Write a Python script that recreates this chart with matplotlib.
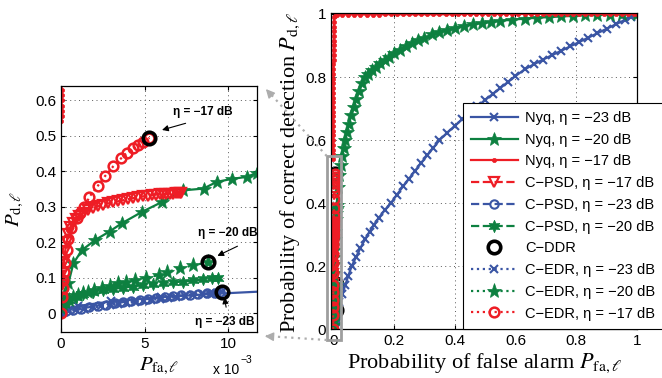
import numpy as np
import matplotlib
matplotlib.use("Agg")
import matplotlib.pyplot as plt
from matplotlib.lines import Line2D
from matplotlib.patches import Rectangle

plt.rcParams['font.family'] = ['Liberation Sans', 'DejaVu Sans']
plt.rcParams['mathtext.fontset'] = 'stix'

BLUE = '#3a55a4'
GREEN = '#0d8040'
RED = '#ee1d25'

# ---- Nyquist ROC curves (full range) ----
nyq23_pfa = [0.0, 0.001, 0.003, 0.006, 0.009, 0.012, 0.02, 0.03, 0.04, 0.05, 0.061, 0.075, 0.09,
             0.105, 0.12, 0.135, 0.15, 0.17, 0.19, 0.21, 0.23, 0.25, 0.27, 0.29, 0.31, 0.33, 0.35,
             0.375, 0.4, 0.425, 0.45, 0.475, 0.5, 0.525, 0.55, 0.575, 0.6, 0.63, 0.66, 0.69, 0.72,
             0.75, 0.78, 0.81, 0.84, 0.87, 0.9, 0.93, 0.96, 0.98, 1.0]
nyq23_pd = [0.0, 0.02, 0.033, 0.045, 0.054, 0.061, 0.085, 0.112, 0.14, 0.17, 0.2, 0.228, 0.258,
            0.285, 0.31, 0.332, 0.353, 0.378, 0.4, 0.427, 0.453, 0.478, 0.503, 0.528, 0.552, 0.576, 0.6,
            0.623, 0.645, 0.666, 0.687, 0.707, 0.727, 0.746, 0.765, 0.784, 0.803, 0.824, 0.84, 0.855, 0.869,
            0.883, 0.897, 0.911, 0.925, 0.939, 0.953, 0.967, 0.981, 0.991, 1.0]

nyq20_pfa = [0.0, 0.00004, 0.0002, 0.00044, 0.00074, 0.00124, 0.00204, 0.0029, 0.00363, 0.00483,
             0.00603, 0.00732, 0.00852, 0.00932, 0.0102, 0.0111, 0.0117,
             0.016, 0.02, 0.025, 0.03, 0.035, 0.04, 0.046, 0.052, 0.06, 0.068,
             0.076, 0.085, 0.095, 0.105, 0.115, 0.127, 0.14, 0.155, 0.17, 0.185,
             0.2, 0.22, 0.24, 0.26, 0.28, 0.3, 0.325, 0.35, 0.375, 0.4,
             0.43, 0.46, 0.49, 0.52, 0.55, 0.59, 0.63, 0.67, 0.71, 0.75,
             0.79, 0.83, 0.87, 0.91, 0.95, 1.0]
nyq20_pd = [0.01, 0.018, 0.05, 0.084, 0.14, 0.177, 0.206, 0.23, 0.253, 0.285,
            0.313, 0.346, 0.351, 0.37, 0.378, 0.384, 0.395,
            0.45, 0.49, 0.52, 0.55, 0.575, 0.6, 0.625, 0.65, 0.68, 0.705,
            0.73, 0.755, 0.78, 0.8, 0.81, 0.822, 0.833, 0.845, 0.855, 0.865,
            0.875, 0.887, 0.898, 0.908, 0.917, 0.925, 0.935, 0.943, 0.95, 0.956,
            0.962, 0.967, 0.971, 0.975, 0.978, 0.982, 0.985, 0.988, 0.99, 0.992,
            0.994, 0.996, 0.997, 0.998, 0.999, 1.0]

nyq17_pfa = [0.0, 0.00004, 0.00004, 0.00004, 0.00004, 0.00004, 0.00004, 0.00004, 0.00004,
             0.0001, 0.0002, 0.0003, 0.0004, 0.0005, 0.0006, 0.0007, 0.0008, 0.0009, 0.001,
             0.0011, 0.0012, 0.0013, 0.0014, 0.0015, 0.0016, 0.0018, 0.002, 0.0022, 0.0025,
             0.0028, 0.003, 0.006, 0.012,
             0.03, 0.05, 0.07, 0.09, 0.11, 0.13, 0.15, 0.17, 0.19, 0.21, 0.23, 0.25, 0.27, 0.29,
             0.31, 0.33, 0.35, 0.37, 0.39, 0.41, 0.43, 0.45, 0.47, 0.49, 0.51, 0.53, 0.55, 0.57,
             0.59, 0.61, 0.63, 0.65, 0.67, 0.69, 0.71, 0.73, 0.75, 0.77, 0.79, 0.81, 0.83, 0.85,
             0.87, 0.89, 0.91, 0.93, 0.95, 0.97, 0.99, 1.0]
nyq17_pd = [0.54, 0.555, 0.57, 0.585, 0.6, 0.615, 0.63, 0.645, 0.66,
            0.675, 0.69, 0.705, 0.72, 0.735, 0.75, 0.765, 0.78, 0.795, 0.81,
            0.825, 0.84, 0.855, 0.87, 0.885, 0.9, 0.915, 0.93, 0.945, 0.96,
            0.975, 0.99, 0.995, 0.997,
            0.998, 0.998, 0.998, 0.998, 0.998, 0.998, 0.998, 0.999, 0.999, 0.999, 0.999, 0.999, 0.999, 0.999,
            0.999, 0.999, 0.999, 0.999, 0.999, 0.999, 1.0, 1.0, 1.0, 1.0, 1.0, 1.0, 1.0, 1.0,
            1.0, 1.0, 1.0, 1.0, 1.0, 1.0, 1.0, 1.0, 1.0, 1.0, 1.0, 1.0, 1.0, 1.0,
            1.0, 1.0, 1.0, 1.0, 1.0, 1.0, 1.0, 1.0]

# ---- compressive detectors (Pfa in units of 1e-3) ----
cpsd17_pfa = np.array([0.0, 0.03, 0.07, 0.12, 0.18, 0.25, 0.33, 0.43, 0.55, 0.7,
                       0.88, 1.08, 1.33, 1.6, 1.9, 2.2, 2.5, 2.8, 3.1, 3.4,
                       3.7, 4.0, 4.3, 4.6, 4.9, 5.2, 5.45, 5.7, 5.9, 6.1,
                       6.3, 6.5, 6.7, 6.85, 7.0, 7.1, 7.2]) * 1e-3
cpsd17_pd = [0.0, 0.04, 0.08, 0.115, 0.145, 0.175, 0.2, 0.222, 0.242, 0.255,
             0.265, 0.275, 0.283, 0.29, 0.296, 0.301, 0.305, 0.309, 0.312, 0.315,
             0.318, 0.321, 0.324, 0.327, 0.329, 0.331, 0.333, 0.334, 0.335, 0.336,
             0.336, 0.337, 0.337, 0.338, 0.338, 0.338, 0.338]

cpsd23_pfa = np.array([0.0, 0.3, 0.7, 1.2, 1.7, 2.2, 2.7, 3.2, 3.7, 4.2, 4.7, 5.2, 5.7, 6.2,
                       6.7, 7.2, 7.7, 8.2, 8.7, 9.2, 9.5]) * 1e-3
cpsd23_pd = [0.0, 0.005, 0.009, 0.013, 0.017, 0.021, 0.024, 0.028, 0.031, 0.034, 0.037, 0.04,
             0.043, 0.046, 0.048, 0.05, 0.052, 0.054, 0.056, 0.058, 0.06]

cpsd20_pfa = np.array([0.0, 0.2, 0.5, 0.9, 1.33, 1.9, 2.5, 3.1, 3.7, 4.3, 4.9, 5.5, 6.1, 6.7,
                       7.3, 7.9, 8.5, 9.0, 9.4]) * 1e-3
cpsd20_pd = [0.01, 0.025, 0.036, 0.046, 0.053, 0.059, 0.064, 0.068, 0.072, 0.075, 0.079, 0.082,
             0.085, 0.087, 0.089, 0.092, 0.095, 0.098, 0.1]

cddr_pfa = np.array([5.29, 8.8, 9.62]) * 1e-3
cddr_pd = [0.494, 0.143, 0.060]

cedr23_pfa = np.array([0.0, 0.2, 0.5, 0.9, 1.4, 1.9, 2.4, 2.9, 3.4, 3.9, 4.4, 4.9, 5.4, 5.9,
                       6.4, 6.9, 7.4, 7.9, 8.4, 8.9, 9.3, 9.62]) * 1e-3
cedr23_pd = [0.0, 0.003, 0.006, 0.009, 0.013, 0.016, 0.019, 0.022, 0.025, 0.028, 0.031, 0.034,
             0.037, 0.04, 0.043, 0.045, 0.048, 0.05, 0.053, 0.055, 0.058, 0.06]

cedr20_pfa = np.array([0.0, 0.1, 0.25, 0.45, 0.7, 1.0, 1.3, 1.63, 2.0, 2.43, 2.9, 3.43, 3.9,
                       4.43, 5.1, 5.83, 6.33, 7.13, 7.92, 8.8]) * 1e-3
cedr20_pd = [0.015, 0.025, 0.032, 0.038, 0.045, 0.051, 0.056, 0.06, 0.065, 0.07, 0.077, 0.084,
             0.088, 0.093, 0.1, 0.107, 0.116, 0.126, 0.135, 0.143]

cedr17_pfa = np.array([0.0, 0.04, 0.09, 0.14, 0.19, 0.24, 0.34, 0.44, 0.6, 0.94, 1.15, 1.4, 1.7,
                       2.19, 2.63, 3.13, 3.59, 3.93, 4.33, 4.63, 4.93, 5.29]) * 1e-3
cedr17_pd = [0.0, 0.046, 0.07, 0.093, 0.117, 0.14, 0.177, 0.21, 0.239, 0.267, 0.283, 0.298, 0.328,
             0.358, 0.386, 0.414, 0.436, 0.452, 0.464, 0.473, 0.483, 0.494]

series = [
    (nyq23_pfa, nyq23_pd, 'Nyq, η = −23 dB',
     dict(color=BLUE, ls='-', lw=1.6, marker='x', ms=6, mew=1.5)),
    (nyq20_pfa, nyq20_pd, 'Nyq, η = −20 dB',
     dict(color=GREEN, ls='-', lw=1.6, marker='*', ms=10, mew=0.5)),
    (nyq17_pfa, nyq17_pd, 'Nyq, η = −17 dB',
     dict(color=RED, ls='-', lw=1.6, marker='o', ms=3, mew=0.5)),
    (cpsd17_pfa, cpsd17_pd, 'C−PSD, η = −17 dB',
     dict(color=RED, ls='--', lw=1.6, marker='v', ms=7, mew=1.6, mfc='none')),
    (cpsd23_pfa, cpsd23_pd, 'C−PSD, η = −23 dB',
     dict(color=BLUE, ls='--', lw=1.6, marker='o', ms=6, mew=1.5, mfc='none')),
    (cpsd20_pfa, cpsd20_pd, 'C−PSD, η = −20 dB',
     dict(color=GREEN, ls='--', lw=1.6, marker=(6, 1, 0), ms=9, mew=0.5)),
    (cddr_pfa, cddr_pd, 'C−DDR',
     dict(color='black', ls='none', marker='o', ms=9, mew=2.6, mfc='none')),
    (cedr23_pfa, cedr23_pd, 'C−EDR, η = −23 dB',
     dict(color=BLUE, ls=':', lw=1.6, marker='x', ms=6, mew=1.5)),
    (cedr20_pfa, cedr20_pd, 'C−EDR, η = −20 dB',
     dict(color=GREEN, ls=':', lw=1.6, marker='*', ms=11, mew=0.5)),
    (cedr17_pfa, cedr17_pd, 'C−EDR, η = −17 dB',
     dict(color=RED, ls=':', lw=1.6, marker='o', ms=7, mew=1.8, mfc='none')),
]

W, H = 662, 378
def fx(px):
    return px / W
def fy(py):
    return 1 - py / H

fig = plt.figure(figsize=(6.62, 3.78), dpi=100)
ax1 = fig.add_axes([fx(61), fy(332.3), (256.7 - 61) / W, (332.3 - 86) / H])
ax2 = fig.add_axes([fx(331), fy(329.3), 306 / W, 316.3 / H])

handles = []
for x, y, lab, st in series:
    ddr = lab == 'C−DDR'
    ax1.plot(x, y, zorder=4 if ddr else 2, **st)
    h, = ax2.plot(x, y, label=lab, zorder=1.5 if ddr else 2, **st)
    handles.append(h)

# left zoom panel
ax1.set_xlim(0, 0.0117)
ax1.set_ylim(-0.054, 0.64)
ax1.set_xticks([0, 0.005, 0.01])
ax1.set_xticklabels(['0', '5', '10'])
ax1.set_yticks([0, 0.1, 0.2, 0.3, 0.4, 0.5, 0.6])
ax1.set_yticklabels(['0', '0.1', '0.2', '0.3', '0.4', '0.5', '0.6'])
ax1.set_xlabel(r'$P_{\mathrm{fa},\ell}$', fontsize=15)
ax1.xaxis.set_label_coords(0.5, -0.14)
ax1.xaxis.label.set_va('center')
ax1.set_ylabel(r'$P_{\mathrm{d},\ell}$', fontsize=15)
ax1.yaxis.set_label_coords(-0.232, 0.5)
ax1.yaxis.label.set_va('center')
ax1.text(0.777, -0.152, 'x 10', transform=ax1.transAxes, fontsize=10, ha='left', va='center')
ax1.text(0.915, -0.112, '−3', transform=ax1.transAxes, fontsize=7.5, ha='left', va='center')

ax1.text(0.00845, 0.568, 'η = −17 dB', fontsize=8.5, fontweight='bold', ha='center', va='center')
ax1.annotate('', xy=(0.00588, 0.514), xytext=(0.00761, 0.537),
             arrowprops=dict(arrowstyle='-|>', color='black', lw=0.8, mutation_scale=9))
ax1.text(0.0100, 0.227, 'η = −20 dB', fontsize=8.5, fontweight='bold', ha='center', va='center')
ax1.annotate('', xy=(0.0092, 0.158), xytext=(0.0107, 0.192),
             arrowprops=dict(arrowstyle='-|>', color='black', lw=0.8, mutation_scale=9))
ax1.text(0.0098, -0.024, 'η = −23 dB', fontsize=8.5, fontweight='bold', ha='center', va='center')
ax1.annotate('', xy=(0.00974, 0.052), xytext=(0.0099, 0.009),
             arrowprops=dict(arrowstyle='-|>', color='black', lw=0.8, mutation_scale=9))

# main panel
ax2.set_xlim(-0.007, 1.0)
ax2.set_ylim(0, 1.003)
ticks = [0, 0.2, 0.4, 0.6, 0.8, 1.0]
ticklabels = ['0', '0.2', '0.4', '0.6', '0.8', '1']
ax2.set_xticks(ticks)
ax2.set_xticklabels(ticklabels)
ax2.set_yticks(ticks)
ax2.set_yticklabels(ticklabels)
ax2.set_xlabel(r'Probability of false alarm $P_{\mathrm{fa},\ell}$', fontsize=16,
               family='Liberation Serif')
ax2.xaxis.set_label_coords(0.503, -0.107)
ax2.xaxis.label.set_va('center')
ax2.set_ylabel(r'Probability of correct detection $P_{\mathrm{d},\ell}$', fontsize=16,
               family='Liberation Serif')
ax2.yaxis.set_label_coords(-0.134, 0.497)
ax2.yaxis.label.set_va('center')

for ax in (ax1, ax2):
    ax.grid(True, color='0.35', lw=0.7, ls=(0, (1, 3.5)))
    ax.tick_params(direction='in', top=True, right=True, length=3, width=0.8, labelsize=11)
    for s in ax.spines.values():
        s.set_linewidth(0.9)

ax2.add_patch(Rectangle((-0.021, -0.034), 0.047, 0.584, transform=ax2.transData,
                        fill=False, edgecolor='0.62', lw=2, clip_on=False, zorder=6))

# dotted connectors from the zoom box to the zoom panel
gray = '0.68'
fig.add_artist(Line2D([fx(326.7), fx(268)], [fy(156), fy(91)], transform=fig.transFigure,
                      color=gray, lw=1.6, ls=(0, (1, 2))))
fig.add_artist(Line2D([fx(326.7), fx(266)], [fy(340), fy(336)], transform=fig.transFigure,
                      color=gray, lw=1.6, ls=(0, (1, 2))))
ax2.annotate('', xy=(fx(264), fy(87)), xytext=(fx(273), fy(97)), xycoords='figure fraction',
             arrowprops=dict(arrowstyle='-|>', color=gray, lw=1, mutation_scale=13))
ax2.annotate('', xy=(fx(262), fy(336)), xytext=(fx(275), fy(336.8)), xycoords='figure fraction',
             arrowprops=dict(arrowstyle='-|>', color=gray, lw=1, mutation_scale=13))

leg = ax2.legend(handles=handles, loc='upper left', bbox_to_anchor=(fx(463), fy(103)),
                 bbox_transform=fig.transFigure, borderaxespad=0, fontsize=10.5,
                 handlelength=3.2, handletextpad=0.5, labelspacing=0.53, borderpad=0.55,
                 fancybox=False, edgecolor='black', framealpha=1, numpoints=1)
leg.get_frame().set_linewidth(0.8)
leg.set_zorder(10)

fig.savefig('out.png', dpi=100)
